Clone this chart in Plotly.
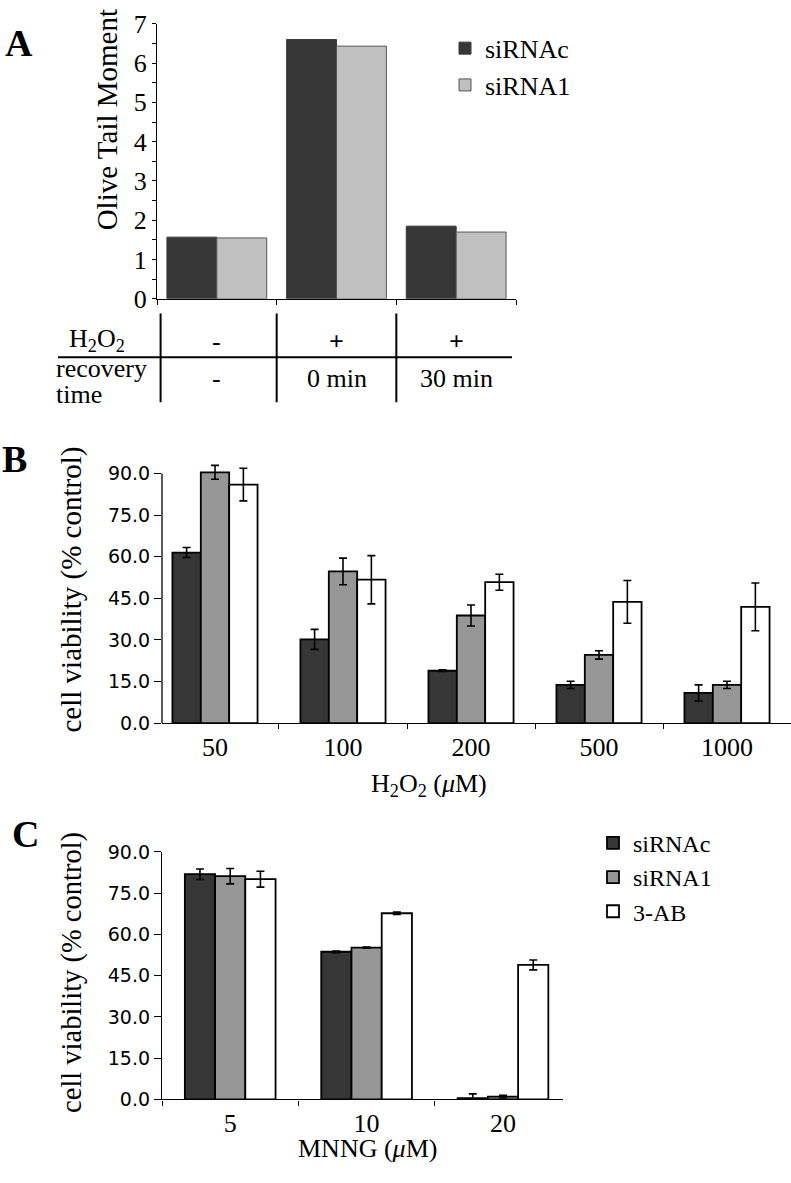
import plotly.graph_objects as go

# ---------------- data ----------------
# Panel A
a_h2o2 = ["-", "+", "+"]
a_recovery = ["-", "0 min", "30 min"]
a_sirnac = [1.57, 6.60, 1.85]
a_sirna1 = [1.55, 6.43, 1.70]

# Panel B
b_doses = ["50", "100", "200", "500", "1000"]
b_sirnac = [61.5, 30.2, 18.9, 13.8, 10.9]
b_sirnac_err = [1.8, 3.6, 0.3, 1.3, 2.9]
b_sirna1 = [90.4, 54.7, 38.8, 24.6, 13.8]
b_sirna1_err = [2.5, 4.8, 3.8, 1.5, 1.3]
b_3ab = [86.0, 51.7, 50.8, 43.7, 41.9]
b_3ab_err = [5.9, 8.7, 2.9, 7.7, 8.6]

# Panel C
c_doses = ["5", "10", "20"]
c_sirnac = [81.9, 53.7, 0.5]
c_sirnac_err = [1.9, 0.3, 1.5]
c_sirna1 = [81.2, 55.2, 1.0]
c_sirna1_err = [2.8, 0.2, 0.5]
c_3ab = [80.1, 67.7, 48.9]
c_3ab_err = [2.9, 0.4, 1.8]

y_ticks_bc = [0, 15, 30, 45, 60, 75, 90]

# ---------------- styling ----------------
W, H = 791, 1183
SERIF = "Liberation Serif"
SANS = "DejaVu Sans"
DARK = "#363636"
LIGHT_A = "#c0c0c0"
GRAY = "#969696"


def px(x):
    return x / W


def py(y):
    return 1 - y / H


fig = go.Figure()

# Panel A bars
fig.add_trace(go.Bar(x=a_recovery, y=a_sirnac, name="siRNAc", xaxis="x", yaxis="y",
                     marker=dict(color=DARK, line=dict(color="#3a3a3a", width=1)),
                     width=0.417, offset=-0.417, legend="legend", legendgroup="a1"))
fig.add_trace(go.Bar(x=a_recovery, y=a_sirna1, name="siRNA1", xaxis="x", yaxis="y",
                     marker=dict(color=LIGHT_A, line=dict(color="#555555", width=1)),
                     width=0.417, offset=0.0, legend="legend", legendgroup="a2"))

# Panel B bars
err_style = dict(type="data", color="black", thickness=1.6, width=4, visible=True)
for name, vals, errs, col, in [("siRNAc", b_sirnac, b_sirnac_err, DARK),
                               ("siRNA1", b_sirna1, b_sirna1_err, GRAY),
                               ("3-AB", b_3ab, b_3ab_err, "white")]:
    fig.add_trace(go.Bar(x=b_doses, y=vals, name=name, xaxis="x2", yaxis="y2",
                         marker=dict(color=col, line=dict(color="black", width=1.8)),
                         error_y=dict(array=errs, **err_style), showlegend=False))

# Panel C bars
for name, vals, errs, col, in [("siRNAc", c_sirnac, c_sirnac_err, DARK),
                               ("siRNA1", c_sirna1, c_sirna1_err, GRAY),
                               ("3-AB", c_3ab, c_3ab_err, "white")]:
    fig.add_trace(go.Bar(x=c_doses, y=vals, name=name, xaxis="x3", yaxis="y3",
                         marker=dict(color=col, line=dict(color="black", width=1.8)),
                         error_y=dict(array=errs, **err_style), legend="legend2"))

axis_common = dict(linecolor="black", linewidth=1.3, showgrid=False,
                   zeroline=False, ticks="outside", tickcolor="black")

B_TOP = 97  # room above 90 so the tallest bar and its error bar are not clipped
b_ppu = (727 - 471) / 90.0

fig.update_layout(
    width=W, height=H, margin=dict(l=0, r=0, t=0, b=0),
    paper_bgcolor="white", plot_bgcolor="white",
    barmode="group", bargap=0.335, bargroupgap=0,
    font=dict(family=SERIF, color="black"),
    # Panel A axes
    xaxis=dict(domain=[px(157), px(516)], anchor="y", type="category",
               range=[-0.5, 2.5], showticklabels=False, tickson="boundaries",
               ticklen=5, tickwidth=1, showline=True, **axis_common),
    yaxis=dict(domain=[py(292), py(10)], anchor="x", range=[0, 7], dtick=1,
               ticklen=4, tickwidth=1, showline=True,
               minor=dict(dtick=0.5, ticks="outside", ticklen=4, tickcolor="black"),
               tickfont=dict(family=SERIF, size=26), ticklabelstandoff=0,
               **axis_common),
    # Panel B axes
    xaxis2=dict(domain=[px(162), px(791)], anchor="y2", type="category",
                range=[-0.414, 4.5], tickson="boundaries", ticklen=5, tickwidth=1,
                showline=True, tickfont=dict(family=SERIF, size=26), **axis_common),
    yaxis2=dict(domain=[py(727), py(727 - B_TOP * b_ppu)], anchor="x2", range=[0, B_TOP],
                tickvals=y_ticks_bc, tickformat=".1f", ticklen=7, tickwidth=1,
                showline=False, tickfont=dict(family=SANS, size=19), **axis_common),
    # Panel C axes
    xaxis3=dict(domain=[px(162), px(563)], anchor="y3", type="category",
                range=[-0.5, 2.44], tickson="boundaries", ticklen=5, tickwidth=1,
                showline=True, tickfont=dict(family=SERIF, size=26), **axis_common),
    yaxis3=dict(domain=[py(1112.7), py(859)], anchor="x3", range=[0, 90],
                tickvals=y_ticks_bc, tickformat=".1f", ticklen=7, tickwidth=1,
                showline=True, tickfont=dict(family=SANS, size=19), **axis_common),
    legend=dict(x=px(445), y=py(11), xanchor="left", yanchor="top",
                font=dict(family=SERIF, size=26), bgcolor="rgba(0,0,0,0)",
                traceorder="normal", tracegroupgap=5),
    legend2=dict(x=px(593), y=py(827), xanchor="left", yanchor="top",
                 font=dict(family=SERIF, size=24), bgcolor="rgba(0,0,0,0)",
                 traceorder="normal"),
)

ann = []
# Panel letters
for letter, x, y in [("A", 3, 30), ("B", 0, 456), ("C", 10, 841)]:
    ann.append(dict(text=f"<b>{letter}</b>", x=px(x), y=py(y), xref="paper", yref="paper",
                    xanchor="left", yanchor="middle", showarrow=False,
                    font=dict(family=SERIF, size=38)))
# Y titles
ann.append(dict(text="Olive Tail Moment", x=px(107), y=py(109), xref="paper", yref="paper",
                textangle=-90, showarrow=False, xanchor="center", yanchor="middle",
                font=dict(family=SERIF, size=29)))
ann.append(dict(text="cell viability (% control)", x=px(72), y=py(590), xref="paper",
                yref="paper", textangle=-90, showarrow=False, xanchor="center",
                yanchor="middle", font=dict(family=SERIF, size=29)))
ann.append(dict(text="cell viability (% control)", x=px(72), y=py(983), xref="paper",
                yref="paper", textangle=-90, showarrow=False, xanchor="center",
                yanchor="middle", font=dict(family=SERIF, size=28.5)))
# X titles
ann.append(dict(text="H<sub>2</sub>O<sub>2</sub> (<i>\u03bc</i>M)", x=px(429), y=py(790),
                xref="paper", yref="paper", showarrow=False, xanchor="center",
                yanchor="middle", font=dict(family=SERIF, size=26)))
ann.append(dict(text="MNNG (<i>\u03bc</i>M)", x=px(367), y=py(1163),
                xref="paper", yref="paper", showarrow=False, xanchor="center",
                yanchor="middle", font=dict(family=SERIF, size=26)))

# Panel A table
ann.append(dict(text="H<sub>2</sub>O<sub>2</sub>", x=px(97), y=py(334), xref="paper",
                yref="paper", showarrow=False, xanchor="center", yanchor="middle",
                font=dict(family=SERIF, size=26)))
ann.append(dict(text="recovery", x=px(54), y=py(363), xref="paper",
                yref="paper", showarrow=False, xanchor="left", yanchor="middle",
                font=dict(family=SERIF, size=26)))
ann.append(dict(text="time", x=px(54), y=py(390), xref="paper",
                yref="paper", showarrow=False, xanchor="left", yanchor="middle",
                font=dict(family=SERIF, size=26)))
for i, (h, r) in enumerate(zip(a_h2o2, a_recovery)):
    htxt = "<b>+</b>" if h == "+" else h
    ann.append(dict(text=htxt, x=i, y=py(336), xref="x", yref="paper", showarrow=False,
                    xanchor="center", yanchor="middle", font=dict(family=SERIF, size=26)))
    ann.append(dict(text=r, x=i, y=py(374), xref="x", yref="paper", showarrow=False,
                    xanchor="center", yanchor="middle", font=dict(family=SERIF, size=26)))
fig.update_layout(annotations=ann)

shapes = [dict(type="line", xref="paper", yref="paper", x0=px(58), x1=px(512),
               y0=py(352), y1=py(352), line=dict(color="black", width=2))]
for xv in [-0.47, 0.5, 1.5]:
    shapes.append(dict(type="line", xref="x", yref="paper", x0=xv, x1=xv,
                       y0=py(307), y1=py(398), line=dict(color="black", width=2)))
# Panel B y-axis line, drawn from 0 to the top tick only
shapes.append(dict(type="line", xref="paper", yref="y2", x0=px(162), x1=px(162),
                   y0=0, y1=y_ticks_bc[-1], line=dict(color="black", width=1.3)))
fig.update_layout(shapes=shapes)

fig.write_html("out.html", config={"displayModeBar": False},
               post_script="document.body.style.margin='0';document.body.style.overflow='hidden';")
